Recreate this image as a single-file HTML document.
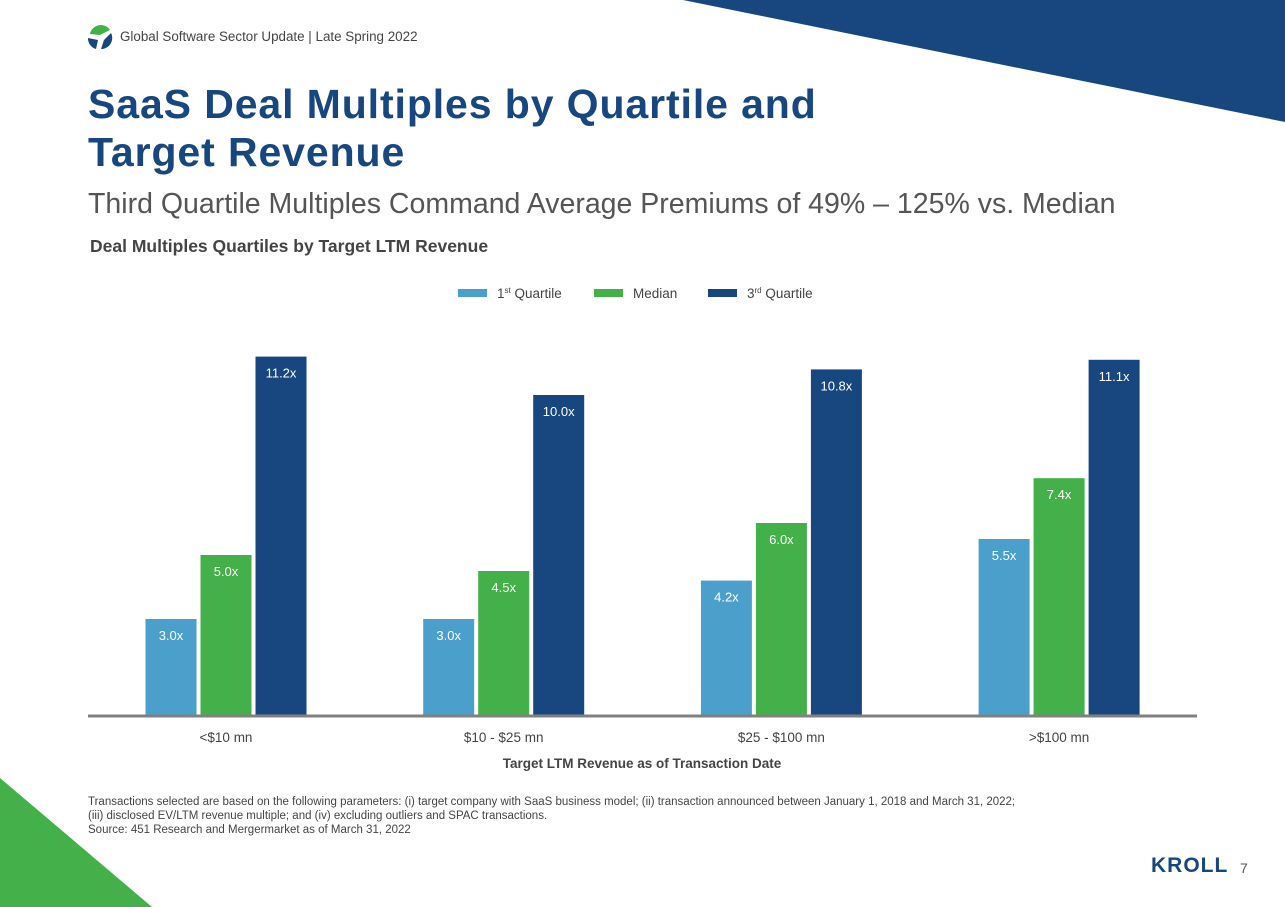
<!DOCTYPE html>
<html><head><meta charset="utf-8"><style>
body{margin:0;width:1285px;height:907px;overflow:hidden;background:#fff;font-family:"Liberation Sans",sans-serif;position:relative}
.abs{position:absolute}
</style></head><body>
<svg class="abs" style="left:0;top:0" width="1285" height="907">
<polygon points="683,0 1285,0 1285,122" fill="#17477e"/>
<polygon points="0,778 0,907 152,907" fill="#43b049"/>
<g>
<path d="M90,34 A11,11 0 0 1 110,30 L100,35 Z" fill="#43b049"/>
<path d="M88,38 L98,40 L96,49 A11,11 0 0 1 88,38 Z" fill="#17477e"/>
<path d="M111,33 A11,11 0 0 1 101,49 L104,40 Z" fill="#17477e"/>
</g>
</svg>
<div class="abs" style="left:120px;top:29px;font-size:13.4px;color:#444">Global Software Sector Update | Late Spring 2022</div>
<div class="abs" style="left:88px;top:80px;font-size:41px;letter-spacing:0.9px;font-weight:bold;color:#17477e;line-height:48px">SaaS Deal Multiples by Quartile and<br>Target Revenue</div>
<div class="abs" style="left:88px;top:188px;font-size:28.5px;color:#555">Third Quartile Multiples Command Average Premiums of 49% – 125% vs. Median</div>
<div class="abs" style="left:90px;top:236px;font-size:17.5px;font-weight:bold;color:#444">Deal Multiples Quartiles by Target LTM Revenue</div>
<svg id="chart" class="abs" style="left:0;top:0" width="1285" height="907"></svg>
<div class="abs" style="left:88px;top:795px;font-size:11.5px;color:#444;line-height:14px;white-space:nowrap">Transactions selected are based on the following parameters: (i) target company with SaaS business model; (ii) transaction announced between January 1, 2018 and March 31, 2022;<br>(iii) disclosed EV/LTM revenue multiple; and (iv) excluding outliers and SPAC transactions.<br>Source: 451 Research and Mergermarket as of March 31, 2022</div>
<div class="abs" style="left:1151px;top:854px;font-size:21px;font-weight:bold;color:#17477e;letter-spacing:1px">KROLL</div>
<div class="abs" style="left:1240px;top:860px;font-size:14px;color:#555">7</div>
<script>
const categories=["<$10 mn","$10 - $25 mn","$25 - $100 mn",">$100 mn"];
const q1=[3.0,3.0,4.2,5.5];
const median=[5.0,4.5,6.0,7.4];
const q3=[11.2,10.0,10.8,11.1];
const seriesNames=["1st Quartile","Median","3rd Quartile"];
const colors=["#4ba0cb","#43b049","#17477e"];
const svg=document.getElementById('chart');
const NS="http://www.w3.org/2000/svg";
const base=715,ppu=32,bw=51,gap=4;
function y(v){return base-v*ppu;}
function cx(i){return 226+i*277.7;}
function mk(t,a){const e=document.createElementNS(NS,t);for(const k in a)e.setAttribute(k,a[k]);svg.appendChild(e);return e;}
const series=[q1,median,q3];
series.forEach((s,si)=>{s.forEach((v,i)=>{
 const x=cx(i)-bw*1.5-gap+si*(bw+gap);
 const r=mk('rect',{x:x,y:y(v),width:bw,height:base-y(v),fill:colors[si]});
 
 
 const t=mk('text',{x:x+bw/2,y:y(v)+21,'text-anchor':'middle','font-size':13,fill:'#fff'});
 t.textContent=v.toFixed(1)+'x';
 
 
});});
const ax=mk('line',{x1:88,x2:1197,y1:base+1,y2:base+1,stroke:'#808080','stroke-width':3});


categories.forEach((c,i)=>{const t=mk('text',{x:cx(i),y:742,'text-anchor':'middle','font-size':13.5,fill:'#444'});t.textContent=c;
 
 });
const at=mk('text',{x:642,y:768,'text-anchor':'middle','font-size':13.5,'font-weight':'bold',fill:'#444'});at.textContent="Target LTM Revenue as of Transaction Date";


const lx=[458,594,708];
seriesNames.forEach((n,i)=>{
 const g=mk('g',{});
 
 
 const r=document.createElementNS(NS,'rect');r.setAttribute('x',lx[i]);r.setAttribute('y',289);r.setAttribute('width',29);r.setAttribute('height',8);r.setAttribute('fill',colors[i]);g.appendChild(r);
 const t=document.createElementNS(NS,'text');t.setAttribute('x',lx[i]+39);t.setAttribute('y',298);t.setAttribute('font-size',13.5);t.setAttribute('fill','#444');
 if(i===1)t.textContent=n;else{const p=n.split(' ');const num=p[0].slice(0,1),sup=p[0].slice(1);t.innerHTML=num+'<tspan font-size="8" dy="-5">'+sup+'</tspan><tspan dy="5"> '+p[1]+'</tspan>';}
 g.appendChild(t);
});
</script>
</body></html>
